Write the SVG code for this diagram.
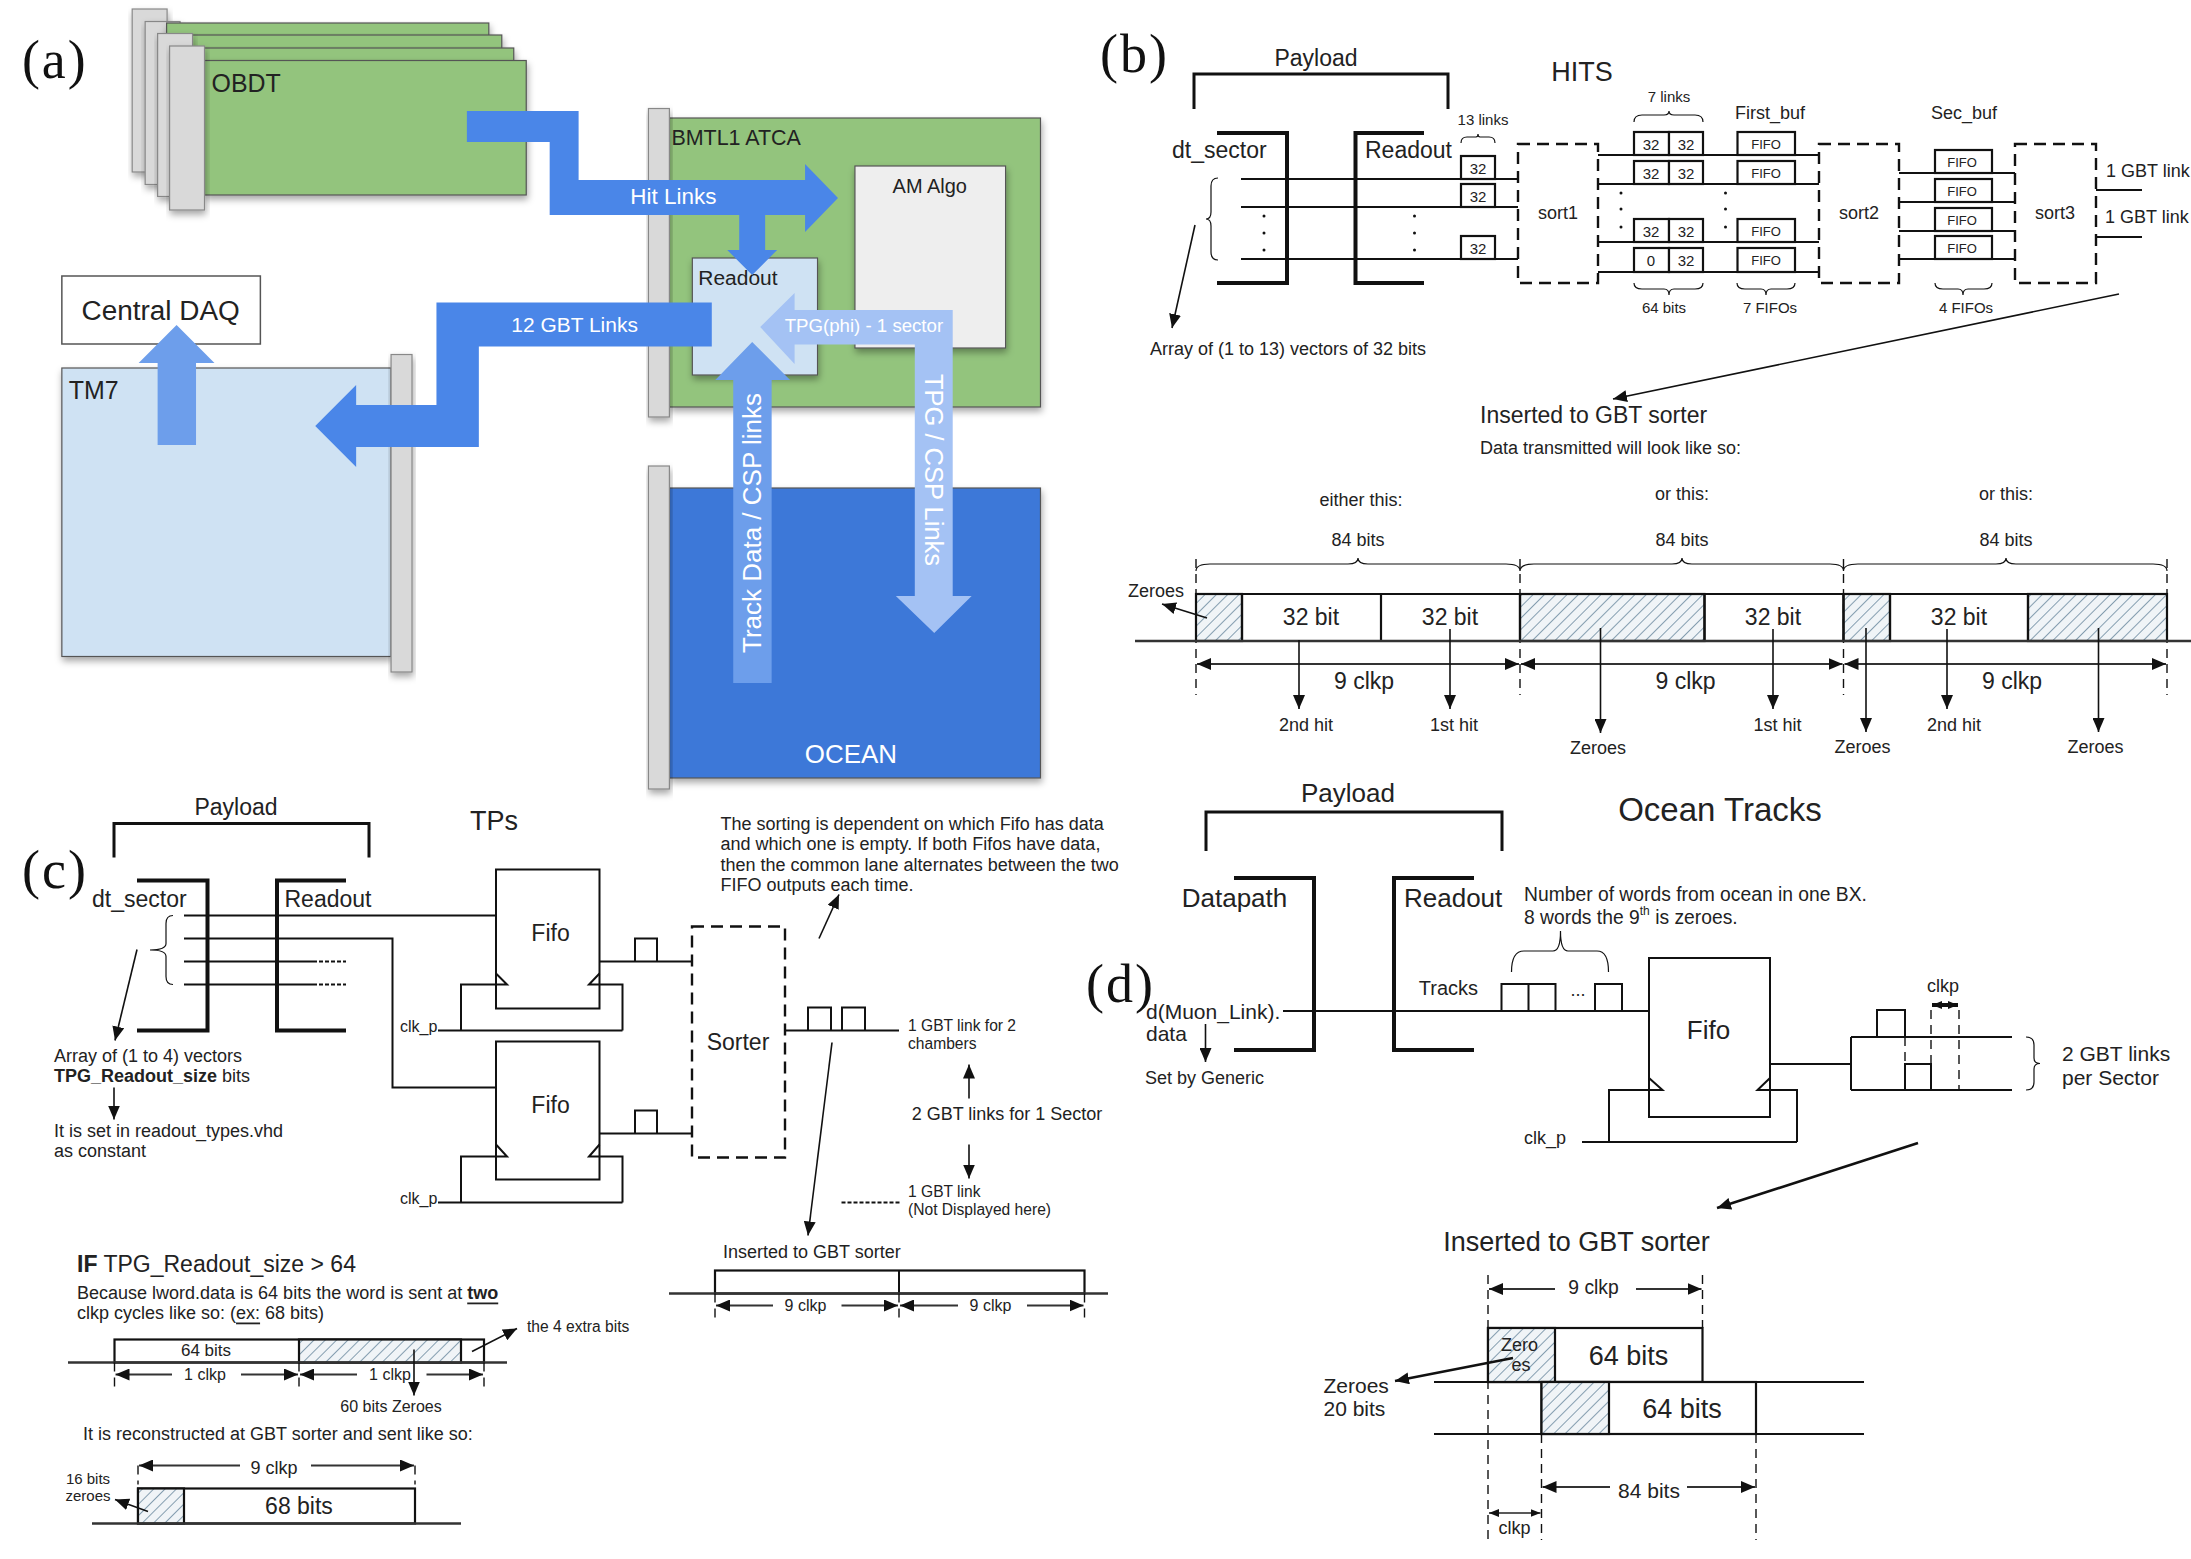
<svg xmlns="http://www.w3.org/2000/svg" width="2191" height="1559" viewBox="0 0 2191 1559">
<style>
text{font-family:"Liberation Sans",Arial,sans-serif;fill:#222;dominant-baseline:central}
.m{text-anchor:middle}
.lab{font-family:"Liberation Serif",serif;font-size:54px;fill:#111;letter-spacing:2px}
.w{fill:#fff}
.s13{font-size:13px}.s15{font-size:15px}.s155{font-size:15.600px}.s16{font-size:16px}.s17{font-size:17px}.s18{font-size:18px}.s19{font-size:19.300px}.s20{font-size:20px}.s21{font-size:21px}.s23{font-size:23px}.s25{font-size:25px}.s26{font-size:26px}.s27{font-size:27px}.s28{font-size:28px}.s33{font-size:33px}
.l,.b,.th,.d,.f,.br,.a,.as{fill:none;stroke:#111}
.l{stroke-width:2}.th{stroke-width:4}.b{stroke-width:2.2;fill:#fff}.f{stroke-width:3}
.d{stroke-width:1.4;stroke-dasharray:9 6}
.dd{fill:none;stroke:#111;stroke-width:2.4;stroke-dasharray:12 7}
.br{stroke-width:1.2}
.a{stroke-width:1.6;marker-end:url(#ah)}
.as{stroke-width:2.6;marker-end:url(#ah)}
.dim{fill:none;stroke:#333;stroke-width:2;marker-start:url(#ah);marker-end:url(#ah)}
.dl{fill:none;stroke:#333;stroke-width:2;marker-start:url(#ah)}
.dr{fill:none;stroke:#333;stroke-width:2;marker-end:url(#ah)}
.ds{fill:none;stroke:#222;stroke-width:1.6;marker-start:url(#ah2);marker-end:url(#ah2)}
.dt{fill:none;stroke:#111;stroke-width:4;marker-start:url(#ah2);marker-end:url(#ah2)}
.hat{fill:url(#hatch);stroke:#111;stroke-width:2.2}
.card{stroke:#555;stroke-width:1.2;filter:url(#sh)}
.bar{fill:#d9d9d9;stroke:#888;stroke-width:1.2;filter:url(#sh)}
.green{fill:#93c47d}.lb{fill:#cfe2f3}
.fa1{fill:#4a86e8}.fa2{fill:#6d9eeb}.fa3{fill:#a4c2f4}
</style>
<defs>
<filter id="sh" x="-10%" y="-10%" width="125%" height="125%"><feDropShadow dx="1" dy="4" stdDeviation="3.5" flood-color="#000" flood-opacity=".35"/></filter>
<marker id="ah" markerUnits="userSpaceOnUse" markerWidth="14" markerHeight="12" viewBox="0 0 14 12" refX="14" refY="6" orient="auto-start-reverse"><path d="M0 0L14 6L0 12Z" fill="#111"/></marker>
<marker id="ah2" markerUnits="userSpaceOnUse" markerWidth="10" markerHeight="8" viewBox="0 0 10 8" refX="10" refY="4" orient="auto-start-reverse"><path d="M0 0L10 4L0 8Z" fill="#111"/></marker>
<pattern id="hatch" width="8" height="8" patternUnits="userSpaceOnUse" patternTransform="rotate(45)"><rect width="8" height="8" fill="#f0f4f7"/><line x1="0" y1="0" x2="0" y2="8" stroke="#3d6480" stroke-width="1.2"/></pattern>
</defs>
<rect width="2191" height="1559" fill="#fff"/>

<g id="panel-a" transform="scale(.9976 1)">
<text class="lab" x="22" y="60">(a)</text>
<g id="obdt">
<rect class="bar" x="132.500" y="9" width="35" height="163"/>
<rect class="bar" x="145.500" y="21.500" width="35" height="163"/>
<rect class="card green" x="167" y="23" width="323" height="20"/>
<rect class="card green" x="180" y="35" width="323" height="20"/>
<rect class="bar" x="158" y="33.500" width="35" height="163"/>
<rect class="card green" x="193" y="48" width="322" height="20"/>
<rect class="card green" x="205" y="60.500" width="322.500" height="134.500"/>
<rect class="bar" x="170" y="46" width="35" height="164"/>
<text class="s25" x="212" y="83">OBDT</text>
</g>
<g id="bmtl1">
<rect class="card green" x="671" y="118" width="372" height="289"/>
<rect class="bar" x="650" y="108.500" width="21" height="308.500"/>
<text style="font-size:21.500px" x="673" y="138">BMTL1 ATCA</text>
</g>
<g id="am-algo">
<rect class="card" fill="#eeeeee" x="857" y="166" width="151" height="182"/>
<text class="s20 m" x="932" y="186">AM Algo</text>
</g>
<g id="readout-a">
<rect class="card lb" x="694" y="258" width="125.500" height="117"/>
<text class="s21" x="700" y="278">Readout</text>
</g>
<g id="tm7">
<rect class="card lb" x="62" y="368" width="330" height="288.500"/>
<rect class="bar" x="392" y="354.500" width="21" height="317.500"/>
<text class="s25" x="69" y="390">TM7</text>
</g>
<g id="central-daq">
<rect x="62" y="276" width="199" height="68" fill="#fff" stroke="#555" stroke-width="1.5"/>
<text class="s28 m" x="161" y="310">Central DAQ</text>
</g>
<g id="ocean">
<rect class="card" fill="#3c78d8" x="671" y="488" width="372" height="290"/>
<rect class="bar" x="650" y="466" width="21" height="323"/>
<text class="s26 m w" x="853" y="754">OCEAN</text>
</g>
<g id="links-a">
<path class="fa2" d="M158 445V363H139L177 325L215 363H196.500V445Z"/>
<path class="fa1" d="M468 111H580V180H807V164L840 198L807 232V215H767V250H779L754 275L729 250H741V215H551V142H468Z"/>
<path class="fa1" d="M713.500 302.500H437.500V405H357V385L316 426L357 467V447H480V346.500H713.500Z"/>
<path class="fa3" d="M762 327L796.500 293V310H955V596H974L936.500 633L898 596H917V344.500H796.500V364Z"/>
<path class="fa2" d="M735 683V380H717L754 342L792 380H773.500V683Z"/>
<text style="font-size:22.500px" class="m w" x="675" y="197">Hit Links</text>
<text class="s21 m w" x="576" y="324">12 GBT Links</text>
<text style="font-size:18.700px" class="m w" x="866" y="326">TPG(phi) - 1 sector</text>
<text style="font-size:25.500px" class="m w" transform="rotate(90 936 470)" x="936" y="470">TPG / CSP Links</text>
<text class="s26 m w" transform="rotate(-90 754 523)" x="754" y="523">Track Data / CSP links</text>
</g>
</g>

<g id="panel-b">
<text class="lab" x="1100" y="54">(b)</text>
<text class="s23 m" x="1316" y="58">Payload</text>
<text class="s27 m" x="1582" y="72">HITS</text>
<g id="b-payload"><path class="f" d="M1194 109V74H1448V109"/></g>
<g id="b-dt-sector"><path class="th" d="M1217 133H1287V283H1217"/><text class="s23" x="1172" y="150">dt_sector</text></g>
<g id="b-readout"><path class="th" d="M1424 133H1355.500V283H1424"/><text class="s23" x="1365" y="150">Readout</text></g>
<g id="b-links">
<path class="l" d="M1241 179H1518M1241 207H1518M1241 259H1518"/>
<path class="br" d="M1218 178Q1211 178 1211 186V212Q1211 219 1206 219Q1211 219 1211 226V252Q1211 260 1218 260"/>
<g fill="#111"><circle cx="1264" cy="216" r="1.500"/><circle cx="1264" cy="233" r="1.500"/><circle cx="1264" cy="250" r="1.500"/><circle cx="1414.500" cy="216" r="1.500"/><circle cx="1414.500" cy="233" r="1.500"/><circle cx="1414.500" cy="250" r="1.500"/></g>
<text class="s15 m" x="1483" y="119">13 links</text>
<path class="br" d="M1461 143Q1461 137 1467 137H1476Q1478 137 1478 134Q1478 137 1480 137H1489Q1495 137 1495 143"/>
<rect class="b" x="1461" y="156" width="34" height="23"/><text class="s15 m" x="1478" y="168">32</text>
<rect class="b" x="1461" y="184" width="34" height="23"/><text class="s15 m" x="1478" y="196">32</text>
<rect class="b" x="1461" y="236" width="34" height="23"/><text class="s15 m" x="1478" y="248">32</text>
</g>
<g id="sort1"><rect class="dd" x="1518" y="144" width="80" height="139"/><text class="s18 m" x="1558" y="213">sort1</text></g>
<g id="sort2"><rect class="dd" x="1819" y="144" width="80" height="139"/><text class="s18 m" x="1859" y="213">sort2</text></g>
<g id="sort3"><rect class="dd" x="2015" y="144" width="81" height="139"/><text class="s18 m" x="2055" y="213">sort3</text></g>
<g id="first-buf">
<path class="l" d="M1598 155H1819M1598 184H1819M1598 242H1819M1598 272H1819"/>
<g class="s15">
<rect class="b" x="1634" y="132" width="35" height="23"/><rect class="b" x="1669" y="132" width="34" height="23"/><text class="m" x="1651" y="144">32</text><text class="m" x="1686" y="144">32</text>
<rect class="b" x="1634" y="161" width="35" height="23"/><rect class="b" x="1669" y="161" width="34" height="23"/><text class="m" x="1651" y="173">32</text><text class="m" x="1686" y="173">32</text>
<rect class="b" x="1634" y="219" width="35" height="23"/><rect class="b" x="1669" y="219" width="34" height="23"/><text class="m" x="1651" y="231">32</text><text class="m" x="1686" y="231">32</text>
<rect class="b" x="1634" y="248" width="35" height="24"/><rect class="b" x="1669" y="248" width="34" height="24"/><text class="m" x="1651" y="260">0</text><text class="m" x="1686" y="260">32</text>
</g>
<g class="s13">
<rect class="b" x="1737.500" y="132" width="57.500" height="23"/><text class="m" x="1766" y="144">FIFO</text>
<rect class="b" x="1737.500" y="161" width="57.500" height="23"/><text class="m" x="1766" y="173">FIFO</text>
<rect class="b" x="1737.500" y="219" width="57.500" height="23"/><text class="m" x="1766" y="231">FIFO</text>
<rect class="b" x="1737.500" y="248" width="57.500" height="24"/><text class="m" x="1766" y="260">FIFO</text>
</g>
<g fill="#111"><circle cx="1621" cy="193" r="1.500"/><circle cx="1621" cy="209" r="1.500"/><circle cx="1621" cy="227" r="1.500"/><circle cx="1725.500" cy="193" r="1.500"/><circle cx="1725.500" cy="209" r="1.500"/><circle cx="1725.500" cy="227" r="1.500"/></g>
<text class="s15 m" x="1669" y="96">7 links</text>
<path class="br" d="M1634 122Q1634 115 1642 115H1664Q1669 115 1669 111Q1669 115 1674 115H1695Q1703 115 1703 122"/>
<text class="s18 m" x="1770" y="113">First_buf</text>
<path class="br" d="M1634 283Q1634 289 1642 289H1664Q1669 289 1669 295Q1669 289 1674 289H1695Q1703 289 1703 283"/>
<path class="br" d="M1737 283Q1737 289 1745 289H1761Q1766 289 1766 295Q1766 289 1771 289H1787Q1795 289 1795 283"/>
<text class="s15 m" x="1664" y="307">64 bits</text>
<text class="s15 m" x="1770" y="307">7 FIFOs</text>
</g>
<g id="sec-buf">
<path class="l" d="M1899 173H2015M1899 202H2015M1899 231H2015M1899 259H2015"/>
<g class="s13">
<rect class="b" x="1935" y="150" width="57" height="23"/><text class="m" x="1962" y="162">FIFO</text>
<rect class="b" x="1935" y="179" width="57" height="23"/><text class="m" x="1962" y="191">FIFO</text>
<rect class="b" x="1935" y="208" width="57" height="23"/><text class="m" x="1962" y="220">FIFO</text>
<rect class="b" x="1935" y="236" width="57" height="23"/><text class="m" x="1962" y="248">FIFO</text>
</g>
<text class="s18 m" x="1964" y="113">Sec_buf</text>
<path class="br" d="M1935 283Q1935 289 1943 289H1958Q1963 289 1963 295Q1963 289 1968 289H1984Q1992 289 1992 283"/>
<text class="s15 m" x="1966" y="307">4 FIFOs</text>
</g>
<g id="gbt-out">
<path class="l" d="M2096 190H2142M2096 237H2142"/>
<text class="s18" x="2106" y="171">1 GBT link</text>
<text class="s18" x="2105" y="217">1 GBT link</text>
</g>
<g id="b-notes">
<path class="a" d="M1195 225L1172 328"/>
<text class="s18" x="1150" y="349">Array of (1 to 13) vectors of 32 bits</text>
<path class="a" d="M2119 294L1613 399"/>
<text class="s23" x="1480" y="415">Inserted to GBT sorter</text>
<text class="s18" x="1480" y="448">Data transmitted will look like so:</text>
</g>
<g id="b-timing">
<text class="s18 m" x="1361" y="500">either this:</text><text class="s18 m" x="1682" y="494">or this:</text><text class="s18 m" x="2006" y="494">or this:</text>
<text class="s18 m" x="1358" y="540">84 bits</text><text class="s18 m" x="1682" y="540">84 bits</text><text class="s18 m" x="2006" y="540">84 bits</text>
<path class="br" d="M1196 571Q1196 564 1210 564H1348Q1358 564 1358 558Q1358 564 1368 564H1506Q1520 564 1520 571Q1520 564 1534 564H1672Q1682 564 1682 558Q1682 564 1692 564H1830Q1843.500 564 1843.500 571Q1843.500 564 1858 564H1996Q2006 564 2006 558Q2006 564 2016 564H2153Q2167 564 2167 571"/>
<path class="d" d="M1196 559V695M1520 559V695M1843.500 559V695M2167 559V695"/>
<rect class="hat" x="1196" y="594" width="46" height="47"/>
<rect class="hat" x="1520" y="594" width="184.500" height="47"/>
<rect class="hat" x="1843.500" y="594" width="46.500" height="47"/>
<rect class="hat" x="2028" y="594" width="139" height="47"/>
<path fill="none" stroke="#111" stroke-width="2.200" d="M1196 594H2167M1242 594V641M1381 594V641M1520 594V641M1704.500 594V641M1843.500 594V641M1890 594V641M2028 594V641"/>
<path fill="none" stroke="#333" stroke-width="2.600" d="M1135 641H2191"/>
<text class="s23 m" x="1311" y="617">32 bit</text><text class="s23 m" x="1450" y="617">32 bit</text><text class="s23 m" x="1773" y="617">32 bit</text><text class="s23 m" x="1959" y="617">32 bit</text>
<text class="s18 m" x="1156" y="591">Zeroes</text>
<path class="a" d="M1207 618L1162 604"/>
<path class="dim" d="M1197 664H1519"/><path class="dim" d="M1521 664H1842.500"/><path class="dim" d="M1844.500 664H2166"/>
<text class="s23 m" x="1364" y="681">9 clkp</text><text class="s23 m" x="1685.500" y="681">9 clkp</text><text class="s23 m" x="2012" y="681">9 clkp</text>
<path class="a" d="M1299 640V709"/><path class="a" d="M1450 629V709"/><path class="a" d="M1600.500 628V733"/><path class="a" d="M1773 629V709"/><path class="a" d="M1866 628V732"/><path class="a" d="M1947 629V709"/><path class="a" d="M2098.500 628V732"/>
<text class="s18 m" x="1306" y="725">2nd hit</text><text class="s18 m" x="1454" y="725">1st hit</text><text class="s18 m" x="1598" y="748">Zeroes</text><text class="s18 m" x="1777.500" y="725">1st hit</text><text class="s18 m" x="1862.500" y="747">Zeroes</text><text class="s18 m" x="1954" y="725">2nd hit</text><text class="s18 m" x="2095.500" y="747">Zeroes</text>
</g>
</g>

<g id="panel-c" transform="translate(0 1.5)">
<text class="lab" x="22" y="868">(c)</text>
<text class="s23 m" x="236" y="805">Payload</text>
<text class="s27 m" x="494" y="819">TPs</text>
<g id="c-payload"><path class="f" d="M114 856V822H369V856"/></g>
<g id="c-dt-sector"><path class="th" d="M137 879H207.500V1029H137"/><text class="s23" x="92" y="897">dt_sector</text></g>
<g id="c-readout"><path class="th" d="M346 879H277V1029H346"/><text class="s23" x="284.500" y="897">Readout</text></g>
<g id="c-links">
<path class="l" d="M184 914H496M184 937H392.500V1086H496M184 960H313M184 983H313"/>
<path class="l" stroke-dasharray="4 2" d="M313 960H346M313 983H346"/>
<path class="br" d="M173 914Q166 914 166 922V942Q166 948.500 150 948.500Q166 948.500 166 955V975Q166 983 173 983"/>
</g>
<g id="c-fifo1">
<path class="l" fill="#fff" d="M496 868H599.500V1007H496Z"/>
<path class="l" d="M461 1029V983H507L496 972M622.500 1029V983H589L599.500 972M438 1029H622.500"/>
<path class="l" d="M599.500 960H692M635 960V937H657V960"/>
<text class="s23 m" x="550.500" y="931">Fifo</text>
<text class="s16" x="400" y="1025">clk_p</text>
</g>
<g id="c-fifo2">
<path class="l" fill="#fff" d="M496 1040H599.500V1178H496Z"/>
<path class="l" d="M461 1201V1155H507L496 1143M622.500 1201V1155H589L599.500 1143M438 1201H622.500"/>
<path class="l" d="M599.500 1132H692M635 1132V1109H657V1132"/>
<text class="s23 m" x="550.500" y="1103">Fifo</text>
<text class="s16" x="400" y="1197">clk_p</text>
</g>
<g id="sorter"><rect class="dd" x="692" y="925" width="93" height="231" fill="#fff"/><text class="s23 m" x="738" y="1040">Sorter</text></g>
<g id="c-out">
<path class="l" d="M785 1029H899M808 1029V1006H831V1029M842 1029V1006H865V1029"/>
<path class="l" stroke-dasharray="4 2" d="M841.500 1201H900"/>
<text class="s155" x="908" y="1024">1 GBT link for 2</text><text class="s155" x="908" y="1042">chambers</text>
<text class="s18 m" x="1007" y="1112">2 GBT links for 1 Sector</text>
<text class="s155" x="908" y="1190">1 GBT link</text><text class="s155" x="908" y="1208">(Not Displayed here)</text>
<path class="a" d="M969 1097V1063"/><path class="a" d="M969 1143V1177"/>
<text class="s18" x="720.500" y="822">The sorting is dependent on which Fifo has data</text>
<text class="s18" x="720.500" y="842">and which one is empty. If both Fifos have data,</text>
<text class="s18" x="720.500" y="863">then the common lane alternates between the two</text>
<text class="s18" x="720.500" y="883">FIFO outputs each time.</text>
<path class="a" d="M819 937L839 893"/>
<path class="a" d="M832 1041L808 1234"/>
</g>
<g id="c-notes">
<path class="a" d="M137 948L115 1039"/>
<text class="s18" x="54" y="1054">Array of (1 to 4) vectors</text>
<text class="s18" x="54" y="1074"><tspan font-weight="bold">TPG_Readout_size</tspan> bits</text>
<path class="a" d="M114 1086V1118"/>
<text class="s18" x="54" y="1129">It is set in readout_types.vhd</text>
<text class="s18" x="54" y="1149">as constant</text>
</g>
<g id="c-gbt-bar">
<text class="s18" x="723" y="1250">Inserted to GBT sorter</text>
<rect class="b" x="715" y="1269" width="369.500" height="23"/>
<path class="l" d="M899 1269V1292"/>
<path fill="none" stroke="#333" stroke-width="2.400" d="M669 1292H1108"/>
<path class="d" d="M715 1292V1316M899 1292V1316M1084.500 1292V1316"/>
<path class="dl" d="M716 1304H773"/><path class="dr" d="M841.500 1304H898"/><path class="dl" d="M900 1304H958"/><path class="dr" d="M1027 1304H1083.500"/>
<text class="s16 m" x="805.500" y="1304">9 clkp</text><text class="s16 m" x="990.500" y="1304">9 clkp</text>
</g>
<g id="c-if">
<text class="s23" x="77" y="1262"><tspan font-weight="bold">IF</tspan> TPG_Readout_size &gt; 64</text>
<text class="s18" x="77" y="1291">Because lword.data is 64 bits the word is sent at <tspan font-weight="bold" text-decoration="underline">two</tspan></text>
<text class="s18" x="77" y="1311">clkp cycles like so: (<tspan text-decoration="underline">ex:</tspan> 68 bits)</text>
<rect class="b" x="114.500" y="1338" width="369.500" height="23"/>
<rect class="hat" x="299" y="1338" width="162" height="23"/>
<path fill="none" stroke="#333" stroke-width="2.400" d="M68 1361H507"/>
<text class="s17 m" x="206" y="1349">64 bits</text>
<path class="d" d="M114.500 1361V1385M299 1361V1385M484 1361V1385"/>
<path class="dl" d="M115.500 1373H172"/><path class="dr" d="M241 1373H298"/><path class="dl" d="M300 1373H357"/><path class="dr" d="M426.500 1373H483"/>
<text class="s16 m" x="205" y="1373">1 clkp</text><text class="s16 m" x="390" y="1373">1 clkp</text>
<path class="a" d="M414 1348V1394"/>
<text class="s16 m" x="391" y="1405">60 bits Zeroes</text>
<path class="a" d="M472 1350L517 1327"/>
<text class="s155" x="527" y="1325">the 4 extra bits</text>
<text class="s18" x="83" y="1432">It is reconstructed at GBT sorter and sent like so:</text>
<rect class="b" x="138" y="1487" width="277" height="35"/>
<rect class="hat" x="138" y="1487" width="46" height="35"/>
<path fill="none" stroke="#333" stroke-width="2.400" d="M92 1522H461"/>
<path class="d" d="M138 1464V1483M415 1464V1483"/>
<path class="dl" d="M139 1464H240"/><path class="dr" d="M311 1464H414"/>
<text class="s18 m" x="274" y="1466">9 clkp</text>
<text class="s23 m" x="299" y="1504">68 bits</text>
<text class="s15 m" x="88" y="1477">16 bits</text><text class="s15 m" x="88" y="1494">zeroes</text>
<path class="a" d="M148 1510L115 1498"/>
</g>
</g>

<g id="panel-d">
<text class="s26 m" x="1348" y="793">Payload</text>
<text class="s33 m" x="1720" y="809">Ocean Tracks</text>
<g id="d-payload"><path class="f" d="M1206 851V812H1502V851"/></g>
<g id="d-datapath"><path class="th" d="M1234 878H1314V1050H1234"/><text class="s26 m" x="1234.500" y="898">Datapath</text></g>
<g id="d-readout"><path class="th" d="M1474 878H1394V1050H1474"/><text class="s26" x="1404" y="898">Readout</text></g>
<text class="lab" x="1086" y="984">(d)</text>
<text class="s21" x="1146" y="1011">d(Muon_Link).</text><text class="s21" x="1146" y="1033">data</text>
<path class="a" d="M1205.500 1024V1062"/>
<text class="s18" x="1145" y="1078">Set by Generic</text>
<g id="d-tracks">
<path class="l" d="M1283 1011H1649"/>
<text class="s20 m" x="1448.500" y="988">Tracks</text>
<path class="l" d="M1501.500 1011V984H1528.500V1011M1528.500 984H1555.500V1011M1595 1011V984H1622V1011"/>
<text class="s18 m" x="1578" y="990">...</text>
<path class="br" d="M1511.500 972Q1511.500 951 1524 951H1553Q1560.500 951 1560.500 931Q1560.500 951 1568 951H1597Q1608.500 951 1608.500 972"/>
<text class="s19" x="1524" y="894">Number of words from ocean in one BX.</text>
<text class="s19" x="1524" y="917">8 words the 9<tspan dy="-6" font-size="12">th</tspan><tspan dy="6"> is zeroes.</tspan></text>
</g>
<g id="d-fifo">
<path class="l" d="M1649 958H1770V1117H1649Z"/>
<path class="l" d="M1609 1142V1090H1662.500L1649 1078M1797 1142V1090H1757.500L1770 1078M1582 1142H1797"/>
<text class="s26 m" x="1708.500" y="1030">Fifo</text>
<text class="s18" x="1524" y="1138">clk_p</text>
</g>
<g id="d-out">
<path class="l" d="M1770 1064H1851M1851 1037V1090M1851 1037H2012M1851 1090H2012"/>
<path class="l" d="M1877 1037V1010H1905V1037M1905 1090V1064H1931V1090"/>
<path class="d" d="M1905 1037V1064M1931 1010V1064M1959 1010V1090"/>
<path class="dt" d="M1932 1005H1958"/>
<text class="s18 m" x="1943" y="986">clkp</text>
<path class="br" d="M2026 1037Q2034 1037 2034 1045V1058Q2034 1063.500 2040 1063.500Q2034 1063.500 2034 1069V1082Q2034 1090 2026 1090"/>
<text class="s21" x="2062" y="1053">2 GBT links</text><text class="s21" x="2062" y="1077">per Sector</text>
<path class="as" d="M1918 1143L1717 1208"/>
</g>
<g id="d-gbt">
<text class="s27 m" x="1576.500" y="1242">Inserted to GBT sorter</text>
<path class="d" d="M1488 1275V1540M1702.500 1275V1328M1541.500 1434V1540M1756 1434V1540"/>
<path class="dl" d="M1489 1289H1555"/><path class="dr" d="M1636 1289H1701.500"/>
<text class="s19 m" x="1593.500" y="1287">9 clkp</text>
<rect class="b" x="1488" y="1328" width="214.500" height="54"/>
<rect class="hat" x="1488" y="1328" width="67" height="54"/>
<rect class="b" x="1541.500" y="1382" width="214.500" height="52"/>
<rect class="hat" x="1541.500" y="1382" width="67.500" height="52"/>
<path class="l" d="M1434 1382H1864M1434 1434H1864"/>
<text class="s27 m" x="1628.500" y="1356">64 bits</text><text class="s27 m" x="1682" y="1409">64 bits</text>
<text class="s18 m" x="1519.500" y="1345">Zero</text><text class="s18 m" x="1521" y="1365">es</text>
<path class="as" d="M1513 1358L1395 1381"/>
<text class="s21" x="1323.500" y="1385">Zeroes</text><text class="s21" x="1323.500" y="1408">20 bits</text>
<path class="dl" d="M1542.500 1487H1610"/><path class="dr" d="M1687 1487H1755"/>
<text class="s21 m" x="1649" y="1490">84 bits</text>
<path class="ds" d="M1489 1513H1540.500"/>
<text class="s18 m" x="1514.500" y="1528">clkp</text>
</g>
</g>
</svg>
